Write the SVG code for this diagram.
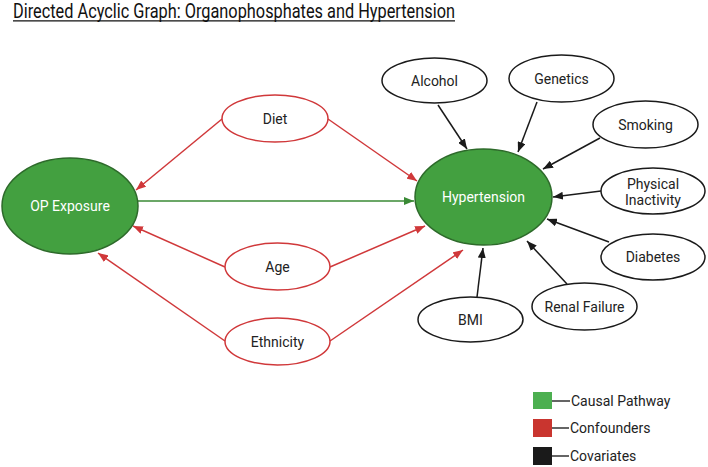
<svg xmlns="http://www.w3.org/2000/svg" width="708" height="467" viewBox="0 0 708 467">
<defs>
<style>
text{font-family:Roboto,"Liberation Sans",sans-serif;}
.lbl{font-size:14px;fill:#222;text-anchor:middle;dominant-baseline:central;}
.wl{font-size:14px;fill:#fff;text-anchor:middle;dominant-baseline:central;}
.g{fill:#43a040;stroke:#2d6a2a;stroke-width:1.5;}
.rn{fill:#fff;stroke:#d0383a;stroke-width:1.5;}
.bn{fill:#fff;stroke:#1a1a1a;stroke-width:1.5;}
.ge{stroke:#3a8a35;stroke-width:1.3;fill:none;}
.re{stroke:#d0383a;stroke-width:1.5;fill:none;}
.be{stroke:#1a1a1a;stroke-width:1.5;fill:none;}
.leg{font-size:14px;fill:#222;dominant-baseline:central;}
</style>
<marker id="ag" markerUnits="userSpaceOnUse" markerWidth="10" markerHeight="8" refX="10" refY="4" orient="auto"><path d="M0,0 L10,4 L0,8 z" fill="#3a8a35"/></marker>
<marker id="ar" markerUnits="userSpaceOnUse" markerWidth="10" markerHeight="8" refX="10" refY="4" orient="auto"><path d="M0,0 L10,4 L0,8 z" fill="#d0383a"/></marker>
<marker id="ab" markerUnits="userSpaceOnUse" markerWidth="10" markerHeight="8" refX="10" refY="4" orient="auto"><path d="M0,0 L10,4 L0,8 z" fill="#1a1a1a"/></marker>
</defs>
<rect width="708" height="467" fill="#fff"/>
<g id="title">
<text x="13" y="18" font-size="21" fill="#111" textLength="442" lengthAdjust="spacingAndGlyphs">Directed Acyclic Graph: Organophosphates and Hypertension</text>
<line x1="13" y1="20.8" x2="455" y2="20.8" stroke="#111" stroke-width="1.2"/>
</g>
<g id="connectors">
<line class="ge" x1="138" y1="201" x2="414" y2="201" marker-end="url(#ag)"/>
<line class="re" x1="222" y1="119" x2="136" y2="190" marker-end="url(#ar)"/>
<line class="re" x1="328" y1="119" x2="417" y2="181" marker-end="url(#ar)"/>
<line class="re" x1="225" y1="267" x2="133" y2="226" marker-end="url(#ar)"/>
<line class="re" x1="330" y1="267" x2="425" y2="226" marker-end="url(#ar)"/>
<line class="re" x1="225" y1="341" x2="98" y2="253" marker-end="url(#ar)"/>
<line class="re" x1="330" y1="341" x2="463" y2="250" marker-end="url(#ar)"/>
<line class="be" x1="438" y1="105" x2="467" y2="149" marker-end="url(#ab)"/>
<line class="be" x1="537" y1="102" x2="518" y2="152" marker-end="url(#ab)"/>
<line class="be" x1="600" y1="138" x2="543" y2="169" marker-end="url(#ab)"/>
<line class="be" x1="601" y1="191" x2="553" y2="197" marker-end="url(#ab)"/>
<line class="be" x1="609" y1="242" x2="547" y2="219" marker-end="url(#ab)"/>
<line class="be" x1="567" y1="284" x2="527" y2="241" marker-end="url(#ab)"/>
<line class="be" x1="477" y1="297" x2="483" y2="248" marker-end="url(#ab)"/>
</g>
<g id="op-exposure"><ellipse class="g" cx="70" cy="206" rx="68" ry="48"/><text class="wl" x="70" y="206">OP Exposure</text></g>
<g id="hypertension"><ellipse class="g" cx="483.5" cy="197" rx="68.5" ry="48"/><text class="wl" x="483.5" y="197">Hypertension</text></g>
<g id="diet"><ellipse class="rn" cx="275" cy="118.5" rx="53" ry="23.5"/><text class="lbl" x="275" y="118.5">Diet</text></g>
<g id="age"><ellipse class="rn" cx="277.5" cy="266.5" rx="52.5" ry="23.5"/><text class="lbl" x="277.5" y="266.5">Age</text></g>
<g id="ethnicity"><ellipse class="rn" cx="277.5" cy="341.5" rx="52.5" ry="23.5"/><text class="lbl" x="277.5" y="341.5">Ethnicity</text></g>
<g id="alcohol"><ellipse class="bn" cx="434.5" cy="80.5" rx="52.5" ry="22.5"/><text class="lbl" x="434.5" y="80.5">Alcohol</text></g>
<g id="genetics"><ellipse class="bn" cx="561.5" cy="78.5" rx="52.5" ry="23.5"/><text class="lbl" x="561.5" y="78.5">Genetics</text></g>
<g id="smoking"><ellipse class="bn" cx="645.5" cy="124.5" rx="52.5" ry="23.5"/><text class="lbl" x="645.5" y="124.5">Smoking</text></g>
<g id="physical-inactivity"><ellipse class="bn" cx="653" cy="191" rx="52" ry="23"/><text class="lbl" x="653" y="183.5">Physical</text><text class="lbl" x="653" y="199.5">Inactivity</text></g>
<g id="diabetes"><ellipse class="bn" cx="653" cy="257" rx="52" ry="23"/><text class="lbl" x="653" y="257">Diabetes</text></g>
<g id="renal-failure"><ellipse class="bn" cx="584.5" cy="306.5" rx="52.5" ry="23.5"/><text class="lbl" x="584.5" y="306.5">Renal Failure</text></g>
<g id="bmi"><ellipse class="bn" cx="470.5" cy="319.5" rx="52.5" ry="22.5"/><text class="lbl" x="470.5" y="319.5">BMI</text></g>
<g id="legend">
<rect x="533" y="392" width="19" height="17" fill="#4caf50"/><line x1="552" y1="401" x2="570" y2="401" stroke="#111" stroke-width="1.3"/><text class="leg" x="571" y="401">Causal Pathway</text>
<rect x="533" y="419" width="19" height="18" fill="#c9352f"/><line x1="552" y1="428" x2="569" y2="428" stroke="#111" stroke-width="1.3"/><text class="leg" x="570" y="428">Confounders</text>
<rect x="533" y="447" width="19" height="18" fill="#1a1a1a"/><line x1="552" y1="456" x2="569" y2="456" stroke="#111" stroke-width="1.3"/><text class="leg" x="570" y="456">Covariates</text>
</g>
</svg>
